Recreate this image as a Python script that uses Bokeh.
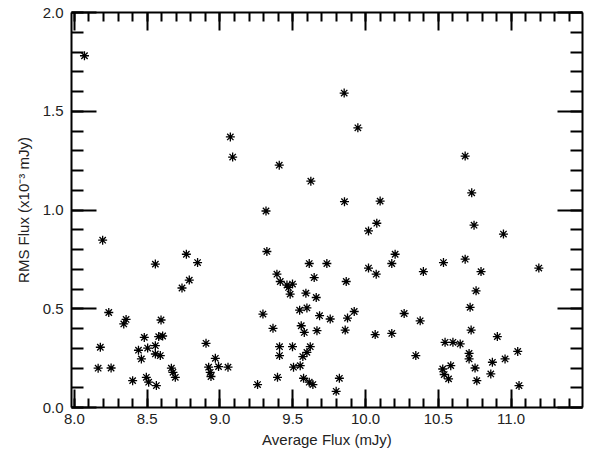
from bokeh.plotting import figure
from bokeh.models import (LinearAxis, SingleIntervalTicker, NumeralTickFormatter,
                          Range1d, CustomJSTickFormatter)
from bokeh.embed import file_html
from bokeh.resources import INLINE

# Data
avg_flux = [
    8.069, 9.071, 9.087, 9.407, 9.624, 9.316, 9.853, 9.947, 10.684, 9.855,
    10.100, 10.729, 10.077, 10.020, 10.745, 10.947,
    8.194, 8.769, 8.846, 8.556, 8.789, 8.739, 8.236, 8.355, 8.339, 8.595,
    8.480, 8.579, 8.606, 8.178, 8.556, 8.503, 8.440, 8.460, 8.556, 8.590,
    8.163, 8.252, 8.666, 8.677, 8.693, 8.400, 8.494, 8.510, 8.563,
    9.322, 9.613, 9.734, 9.391, 9.647, 9.414, 9.460, 9.498, 9.471, 9.482,
    9.590, 9.661, 9.295, 9.547, 9.597, 9.684, 9.757, 9.364, 9.558, 9.579,
    9.666, 8.904, 9.409, 9.498, 9.620, 9.409, 9.569, 9.597, 8.968, 8.922,
    8.990, 9.055, 8.938, 8.933, 9.258, 9.395, 9.505, 9.551, 9.574, 9.613,
    9.638,
    10.203, 10.180, 10.020, 10.073, 10.397, 10.535, 9.867, 9.876, 9.922,
    10.265, 10.375, 9.860, 10.066, 10.180, 10.345, 10.546, 10.600, 10.585,
    10.530, 10.540, 10.570, 9.820, 9.798,
    10.684, 10.793, 11.190, 10.759, 10.718, 10.725, 10.905, 10.650, 10.711,
    10.711, 11.045, 10.958, 10.871, 10.752, 10.860, 10.764, 11.054,
]
rms_flux = [
    1.781, 1.370, 1.268, 1.227, 1.146, 0.995, 1.592, 1.416, 1.273, 1.042,
    1.045, 1.087, 0.933, 0.894, 0.923, 0.878,
    0.847, 0.776, 0.734, 0.726, 0.645, 0.605, 0.481, 0.446, 0.423, 0.443,
    0.355, 0.359, 0.362, 0.305, 0.313, 0.301, 0.290, 0.246, 0.271, 0.263,
    0.199, 0.200, 0.199, 0.178, 0.153, 0.136, 0.153, 0.128, 0.111,
    0.790, 0.729, 0.729, 0.675, 0.658, 0.638, 0.620, 0.625, 0.608, 0.574,
    0.579, 0.557, 0.473, 0.493, 0.504, 0.465, 0.448, 0.401, 0.414, 0.380,
    0.389, 0.325, 0.308, 0.308, 0.308, 0.263, 0.258, 0.279, 0.249, 0.204,
    0.207, 0.204, 0.157, 0.178, 0.116, 0.153, 0.204, 0.212, 0.148, 0.128,
    0.116,
    0.776, 0.729, 0.706, 0.675, 0.688, 0.734, 0.638, 0.453, 0.486,
    0.476, 0.439, 0.392, 0.369, 0.375, 0.263, 0.330, 0.330, 0.212,
    0.195, 0.167, 0.145, 0.148, 0.082,
    0.751, 0.688, 0.706, 0.591, 0.507, 0.392, 0.359, 0.322, 0.274,
    0.246, 0.284, 0.246, 0.229, 0.200, 0.170, 0.136, 0.111,
]

x_label = "Average Flux (mJy)"
y_label = "RMS Flux (x10\u207b\u00b3 mJy)"

FONT = "Liberation Sans"

p = figure(width=595, height=450, output_backend="svg", toolbar_location=None,
           x_range=Range1d(7.98, 11.49), y_range=Range1d(0.0, 2.0),
           x_axis_location=None, y_axis_location=None,
           min_border_left=71, min_border_right=13, min_border_top=12,
           min_border_bottom=43)
p.xgrid.visible = False
p.ygrid.visible = False
p.outline_line_color = None
p.background_fill_color = "white"
p.border_fill_color = "white"

def make_axis(show_labels, maj, mnr):
    ax = LinearAxis(ticker=SingleIntervalTicker(interval=0.5, num_minor_ticks=5))
    ax.axis_line_width = 2
    ax.axis_line_color = "black"
    ax.major_tick_in = maj
    ax.major_tick_out = 0
    ax.minor_tick_in = mnr
    ax.minor_tick_out = 0
    ax.major_tick_line_width = 2
    ax.minor_tick_line_width = 2
    ax.major_tick_line_color = "black"
    ax.minor_tick_line_color = "black"
    if show_labels:
        ax.formatter = NumeralTickFormatter(format="0.0")
        ax.major_label_text_font = FONT
        ax.major_label_text_font_size = "15px"
        ax.major_label_text_color = "#222222"
        ax.axis_label_text_font = FONT
        ax.axis_label_text_font_size = "15px"
        ax.axis_label_text_font_style = "normal"
        ax.axis_label_text_color = "#222222"
    else:
        ax.formatter = CustomJSTickFormatter(code="return '';")
        ax.major_label_standoff = 0
    return ax

xb = make_axis(True, 18, 9)
xb.axis_label = x_label
xb.major_label_standoff = 6
xb.axis_label_standoff = 4
p.add_layout(xb, "below")

xt = make_axis(False, 18, 9)
p.add_layout(xt, "above")

yl = make_axis(True, 25, 12)
yl.axis_label = y_label
yl.major_label_standoff = 8
yl.axis_label_standoff = 8
p.add_layout(yl, "left")

yr = make_axis(False, 25, 12)
p.add_layout(yr, "right")

p.scatter(avg_flux, rms_flux, marker="asterisk", size=9, line_color="black",
          line_width=1.3)

open("out.html", "w").write(file_html(p, INLINE))
